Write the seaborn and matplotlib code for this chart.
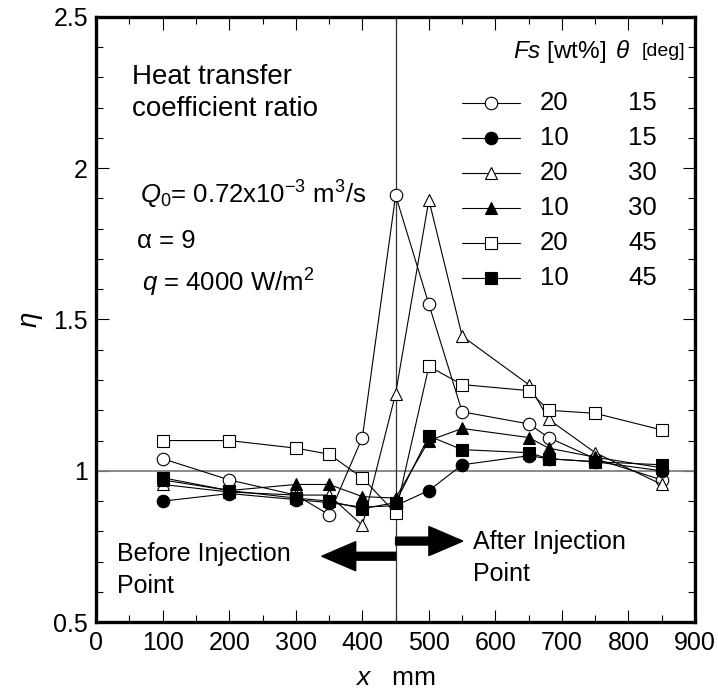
import numpy as np
import pandas as pd
import matplotlib
matplotlib.use("Agg")
import matplotlib.pyplot as plt
import seaborn as sns

# ---- data ----
x_mm = [100, 200, 300, 350, 400, 450, 500, 550, 650, 680, 750, 850]
fs_wt = [20, 10, 20, 10, 20, 10]
theta_deg = [15, 15, 30, 30, 45, 45]
eta_fs20_t15 = [1.04, 0.97, 0.92, 0.855, 1.11, 1.91, 1.55, 1.195, 1.155, 1.11, 1.04, 0.97]
eta_fs10_t15 = [0.90, 0.925, 0.905, 0.895, 0.88, 0.885, 0.935, 1.02, 1.05, 1.04, 1.03, 1.00]
eta_fs20_t30 = [0.955, 0.93, 0.92, 0.92, 0.82, 1.255, 1.895, 1.445, 1.285, 1.17, 1.06, 0.955]
eta_fs10_t30 = [0.97, 0.935, 0.955, 0.955, 0.915, 0.91, 1.10, 1.14, 1.11, 1.075, 1.045, 1.01]
eta_fs20_t45 = [1.10, 1.10, 1.075, 1.055, 0.977, 0.86, 1.345, 1.285, 1.265, 1.20, 1.19, 1.135]
eta_fs10_t45 = [0.977, 0.935, 0.91, 0.90, 0.875, 0.895, 1.115, 1.07, 1.06, 1.04, 1.03, 1.02]
series = [eta_fs20_t15, eta_fs10_t15, eta_fs20_t30, eta_fs10_t30, eta_fs20_t45, eta_fs10_t45]

markers = ["o", "o", "^", "^", "s", "s"]
faces = ["white", "black", "white", "black", "white", "black"]

sns.set_theme(style="ticks")
plt.rcParams["font.family"] = ["Liberation Sans", "DejaVu Sans"]
plt.rcParams["mathtext.fontset"] = "custom"
plt.rcParams["mathtext.rm"] = "Liberation Sans"
plt.rcParams["mathtext.it"] = "Liberation Sans:italic"
plt.rcParams["mathtext.bf"] = "Liberation Sans:bold"
for k in ["text.color", "axes.labelcolor", "xtick.color", "ytick.color", "axes.edgecolor"]:
    plt.rcParams[k] = "black"

fig = plt.figure(figsize=(7.18, 6.96), dpi=100)
ax = fig.add_axes([0.134, 0.106, 0.834, 0.870])

# reference lines
ax.axhline(1.0, color="#808080", lw=1.3, zorder=1)
ax.axvline(450, color="#333333", lw=0.9, zorder=1)

for ys, m, fc in zip(series, markers, faces):
    df = pd.DataFrame({"x": x_mm, "eta": ys})
    sns.lineplot(data=df, x="x", y="eta", ax=ax, color="black", lw=0.8,
                 marker=m, markersize=9, markerfacecolor=fc,
                 markeredgecolor="black", markeredgewidth=0.8,
                 estimator=None, sort=False, zorder=3)

ax.set_xlim(0, 900)
ax.set_ylim(0.5, 2.5)
ax.set_xticks(np.arange(0, 901, 100))
ax.set_xticks(np.arange(0, 901, 50), minor=True)
ax.set_yticks([0.5, 1, 1.5, 2, 2.5])
ax.set_yticklabels(["0.5", "1", "1.5", "2", "2.5"])
ax.set_yticks(np.arange(0.5, 2.51, 0.1), minor=True)
ax.tick_params(which="both", direction="in", top=True, right=True, labelsize=18, pad=6)
ax.tick_params(which="major", length=9, width=0.8)
ax.tick_params(which="minor", length=5, width=0.8)
for s in ax.spines.values():
    s.set_linewidth(2.4)
    s.set_color("black")

ax.set_xlabel(r"$\mathit{x}$   mm", fontsize=19, labelpad=8)
ax.set_ylabel(r"$\eta$", fontsize=20, rotation=90, labelpad=6)

# annotations
ax.text(54, 2.345, "Heat transfer\ncoefficient ratio", fontsize=20, va="top", ha="left", linespacing=1.3)
ax.text(66, 1.91, r"$Q_{\mathit{0}}$= 0.72x10$^{-3}$ m$^{3}$/s", fontsize=18.5, va="center")
ax.text(61, 1.76, "α = 9", fontsize=18.5, va="center")
ax.text(69, 1.62, r"$q$ = 4000 W/m$^{2}$", fontsize=18.5, va="center")

# custom legend
ax.text(626, 2.384, r"$Fs$ [wt%]", fontsize=17.5, va="center", ha="left")
ax.text(779, 2.384, r"$\theta$", fontsize=17.5, va="center", ha="left")
ax.text(820, 2.384, "[deg]", fontsize=14, va="center", ha="left")
row_y = [2.216, 2.10, 1.984, 1.869, 1.753, 1.637]
for yy, m, fc, f, t in zip(row_y, markers, faces, fs_wt, theta_deg):
    ax.plot([550, 637], [yy, yy], color="black", lw=0.8)
    ax.plot([593], [yy], marker=m, markersize=9, markerfacecolor=fc,
            markeredgecolor="black", markeredgewidth=0.8, ls="none")
    ax.text(667, yy, str(f), fontsize=18.5, va="center", ha="left")
    ax.text(800, yy, str(t), fontsize=18.5, va="center", ha="left")

# injection arrows
ax.arrow(450, 0.718, -111, 0, width=0.026, head_width=0.096, head_length=51,
         length_includes_head=True, color="black", zorder=4)
ax.arrow(450, 0.768, 101, 0, width=0.026, head_width=0.096, head_length=51,
         length_includes_head=True, color="black", zorder=4)
ax.text(31, 0.672, "Before Injection\nPoint", fontsize=18, va="center", ha="left", linespacing=1.4)
ax.text(567, 0.712, "After Injection\nPoint", fontsize=18, va="center", ha="left", linespacing=1.4)

fig.savefig("out.png", dpi=100)
